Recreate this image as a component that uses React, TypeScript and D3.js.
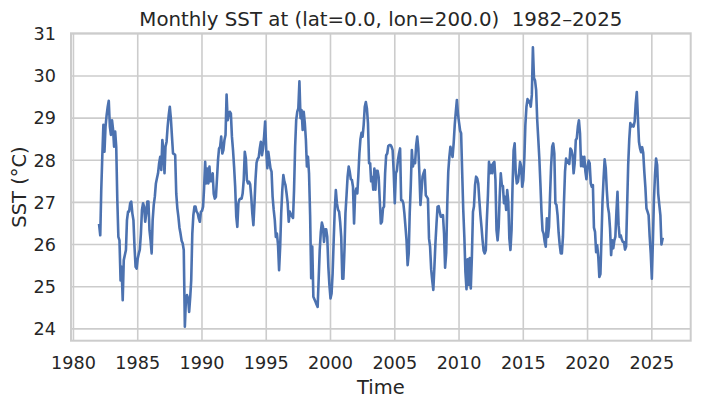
import React from 'react';
import * as d3 from 'd3';

// monthly sea surface temperature (°C) at lat 0, lon 200, Jan 1982 onward
const startYear = 1982;

const sst1980s = [
  26.46, 26.22, 27.29, 28.12, 28.84, 28.2, 28.8, 29.07, 29.27, 29.41, 28.8, 28.6,
  28.95, 28.72, 28.32, 28.68, 28.32, 27.05, 26.18, 26.1, 25.15, 25.47, 24.68, 25.63,
  25.75, 25.87, 26.58, 26.78, 26.78, 26.98, 27.02, 26.74, 26.58, 25.95, 25.47, 25.43,
  25.67, 25.79, 25.88, 26.26, 26.82, 26.98, 26.9, 26.54, 26.74, 27.02, 27.02, 26.34,
  26.1, 25.79, 26.58, 26.94, 27.13, 27.45, 27.57, 27.69, 27.93, 28.08, 27.77, 28.48,
  28.24, 27.69, 28.32, 28.44, 28.8, 29.07, 29.27, 28.99, 28.56, 28.16, 28.15, 28.12,
  27.2, 26.86, 26.66, 26.4, 26.26, 26.09, 26.03, 25.87, 24.05, 24.68, 24.8, 24.72,
  24.4, 24.76, 25.15, 26.26, 26.7, 26.9, 26.9, 26.78, 26.74, 26.62, 26.54, 26.78,
];

const sst1990s = [
  26.8, 26.9, 27.33, 27.96, 27.45, 27.8, 27.45, 27.85, 27.5, 27.5, 27.69, 27.2,
  27.09, 27.13, 27.53, 28.0, 28.28, 28.32, 28.56, 28.16, 28.24, 28.48, 28.6, 29.56,
  28.95, 29.1, 29.15, 29.11, 28.56, 28.24, 27.85, 27.37, 26.66, 26.42, 26.98, 27.07,
  27.09, 27.09, 27.21, 27.53, 28.2, 28.04, 27.53, 27.45, 27.49, 27.43, 27.13, 26.74,
  26.46, 26.98, 27.53, 27.94, 28.03, 28.07, 28.28, 28.44, 28.12, 28.28, 28.56, 28.92,
  28.24, 27.81, 28.2, 28.0, 27.81, 27.73, 27.13, 26.82, 26.58, 26.18, 26.26, 26.0,
  25.39, 25.95, 26.74, 27.29, 27.65, 27.49, 27.41, 27.21, 26.98, 26.54, 26.78, 26.72,
  26.67, 26.63, 27.29, 28.32, 28.95, 29.15, 29.23, 29.87, 29.0, 29.19, 28.72, 29.15,
  28.88, 28.48, 27.85, 28.08, 27.69, 26.7, 25.2, 25.95, 24.76, 24.7, 24.64, 24.58,
  24.52, 25.23, 25.87, 26.3, 26.52, 26.42, 26.06, 26.36, 26.36, 26.18, 25.47, 25.04,
];

const sst2000s = [
  24.72, 24.84, 25.31, 26.1, 26.82, 27.29, 26.98, 26.83, 26.78, 26.54, 26.18, 25.19,
  25.19, 25.87, 26.74, 27.17, 27.61, 27.85, 27.73, 27.55, 27.53, 27.37, 26.5, 27.21,
  27.33, 27.21, 27.61, 28.16, 28.5, 28.65, 28.56, 28.84, 29.27, 29.38, 29.23, 28.88,
  27.93, 27.93, 27.5, 27.6, 27.3, 27.8, 27.3, 27.75, 27.75, 27.6, 27.05, 26.5,
  26.54, 26.86, 26.9, 27.69, 28.12, 28.16, 28.34, 28.36, 28.36, 28.32, 28.24, 27.73,
  26.98, 27.69, 27.75, 28.0, 28.16, 28.28, 27.05, 27.05, 26.98, 26.74, 26.42, 26.1,
  25.51, 25.79, 26.74, 27.41, 28.24, 27.85, 28.0, 27.93, 28.36, 28.56, 28.28, 27.69,
  26.94, 27.29, 27.61, 27.7, 27.77, 27.17, 27.13, 27.09, 26.14, 25.95, 25.41, 25.15,
  24.92, 25.47, 26.03, 26.5, 26.9, 26.91, 26.78, 26.66, 26.66, 26.7, 26.26, 25.45,
  25.8, 26.98, 27.73, 28.08, 28.32, 28.19, 28.08, 28.4, 28.84, 29.15, 29.43, 29.1,
];

const sst2010s = [
  28.9, 28.7, 28.64, 27.69, 26.82, 26.18, 25.35, 24.94, 25.65, 25.05, 25.68, 24.96,
  25.71, 26.78, 26.9, 27.41, 27.61, 27.57, 27.45, 27.05, 26.7, 26.42, 26.1, 25.85,
  25.79, 25.87, 26.58, 27.17, 27.96, 27.69, 27.89, 27.69, 27.93, 27.96, 27.53, 26.34,
  26.1, 26.42, 27.13, 27.69, 27.41, 27.39, 26.98, 27.13, 26.82, 27.29, 27.02, 26.14,
  25.87, 26.34, 27.37, 28.24, 28.4, 27.69, 27.45, 27.49, 27.69, 27.96, 27.85, 27.37,
  27.53, 28.08, 28.84, 29.27, 29.45, 29.37, 29.41, 29.27, 29.55, 30.68, 29.95, 29.89,
  29.67, 28.95, 28.52, 28.04, 27.45, 26.78, 26.33, 26.26, 26.06, 25.95, 26.62, 26.18,
  26.42, 27.21, 27.85, 28.32, 28.4, 28.16, 26.98, 26.94, 26.7, 26.28, 25.99, 25.79,
  25.79, 26.18, 26.98, 27.73, 28.04, 27.94, 27.99, 27.91, 28.28, 28.24, 28.12, 27.69,
  27.93, 28.48, 28.52, 28.8, 28.95, 28.64, 27.86, 28.08, 27.85, 28.08, 27.73, 27.55,
];

const sst2020s = [
  27.85, 27.99, 27.93, 27.45, 27.37, 27.41, 26.4, 26.3, 25.82, 25.98, 25.71, 25.23,
  25.3, 26.18, 27.02, 27.57, 28.02, 27.81, 27.29, 26.9, 26.74, 26.38, 25.75, 26.1,
  25.91, 26.1, 26.18, 26.78, 27.25, 26.46, 26.18, 26.22, 26.12, 26.06, 26.06, 25.88,
  25.95, 26.98, 27.89, 28.5, 28.88, 28.8, 28.84, 28.8, 28.92, 29.35, 29.62, 29.03,
  28.44, 28.28, 28.19, 28.31, 28.18, 27.73, 27.37, 26.86, 26.78, 26.7, 26.18, 25.79,
  25.19, 26.1, 27.05, 27.65, 28.04, 27.89, 27.21, 26.94, 26.7, 26.0, 26.13,
];

const yearTicks = [1980, 1985, 1990, 1995, 2000, 2005, 2010, 2015, 2020, 2025];
const sstTicks = [24, 25, 26, 27, 28, 29, 30, 31];

const title = 'Monthly SST at (lat=0.0, lon=200.0)  1982–2025';
const xLabel = 'Time';
const yLabel = 'SST (°C)';

const width = 701;
const height = 407;
const margin = { top: 33.3, right: 10.3, bottom: 66.3, left: 71 };

const font = '"DejaVu Sans", sans-serif';
const ink = '#262626';
const gridColor = '#cccccc';
const lineColor = '#4c72b0';

function App() {
  const values = [...sst1980s, ...sst1990s, ...sst2000s, ...sst2010s, ...sst2020s];
  const series = values.map((v, i) => ({ date: new Date(Date.UTC(startYear, i, 1)), value: v }));

  // 5% padding on both axes, like matplotlib's autoscale
  const t0 = series[0].date.getTime();
  const t1 = series[series.length - 1].date.getTime();
  const tPad = (t1 - t0) * 0.05;
  const x = d3.scaleUtc()
    .domain([new Date(t0 - tPad), new Date(t1 + tPad)])
    .range([margin.left, width - margin.right]);

  const vMin = d3.min(values) as number;
  const vMax = d3.max(values) as number;
  const vPad = (vMax - vMin) * 0.05;
  const y = d3.scaleLinear()
    .domain([vMin - vPad, vMax + vPad])
    .range([height - margin.bottom, margin.top]);

  const line = d3.line<{ date: Date; value: number }>()
    .x(d => x(d.date))
    .y(d => y(d.value));

  const left = margin.left;
  const right = width - margin.right;
  const top = margin.top;
  const bottom = height - margin.bottom;
  const midX = (left + right) / 2;
  const midY = (top + bottom) / 2;

  return (
    <svg width={width} height={height}
      style={{ position: 'absolute', left: 0, top: 0, background: '#fff' }}>
      {/* grid */}
      <g stroke={gridColor} strokeWidth={1.6}>
        {yearTicks.map(yr => {
          const px = x(new Date(Date.UTC(yr, 0, 1)));
          return <line key={'gx' + yr} x1={px} x2={px} y1={top} y2={bottom} />;
        })}
        {sstTicks.map(t => (
          <line key={'gy' + t} x1={left} x2={right} y1={y(t)} y2={y(t)} />
        ))}
      </g>

      <path d={line(series) || ''} fill="none" stroke={lineColor} strokeWidth={2.6}
        strokeLinejoin="round" strokeLinecap="square" />

      {/* spines */}
      <rect x={left} y={top} width={right - left} height={bottom - top}
        fill="none" stroke={gridColor} strokeWidth={2} />

      <g fontFamily={font} fontSize={17.6} fill={ink}>
        {yearTicks.map(yr => (
          <text key={'tx' + yr} x={x(new Date(Date.UTC(yr, 0, 1)))} y={368.8}
            textAnchor="middle">{yr}</text>
        ))}
        {sstTicks.map(t => (
          <text key={'ty' + t} x={56} y={y(t) + 6.4} textAnchor="end">{t}</text>
        ))}
      </g>

      <text x={midX} y={25.5} textAnchor="middle" fontFamily={font} fontSize={19.8}
        fill={ink} style={{ whiteSpace: 'pre' }}>{title}</text>
      <text x={midX} y={394} textAnchor="middle" fontFamily={font} fontSize={19.5}
        fill={ink}>{xLabel}</text>
      <text transform={`translate(25.5, ${midY}) rotate(-90)`} textAnchor="middle"
        fontFamily={font} fontSize={19.5} fill={ink}>{yLabel}</text>
    </svg>
  );
}

export default App;
